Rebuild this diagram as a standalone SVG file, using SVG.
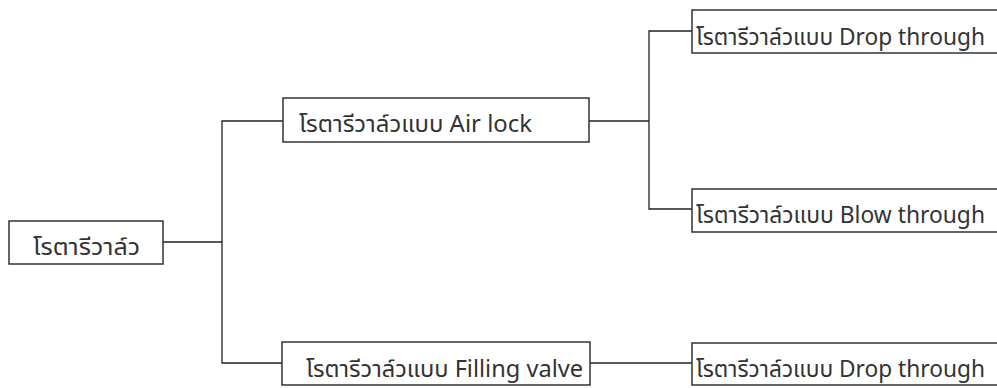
<svg xmlns="http://www.w3.org/2000/svg" width="997" height="388" viewBox="0 0 997 388">
<style>
rect.box{fill:#fff;stroke:#333;stroke-width:1.5}
text{font-family:"Noto Sans Thai","Noto Sans","DejaVu Sans","Liberation Sans",sans-serif;font-size:23px;fill:#333}
.conn line,.conn polyline{stroke:#222;stroke-width:1.3;fill:none}
</style>
<rect width="997" height="388" fill="#fff"/>
<g id="connectors" class="conn">
<line x1="163" y1="242" x2="222" y2="242"/>
<polyline points="283,121 222,121 222,363 282,363"/>
<line x1="589" y1="121" x2="649" y2="121"/>
<polyline points="692,31 649,31 649,209 692,209"/>
<line x1="590" y1="363" x2="692" y2="363"/>
</g>
<g id="root"><rect class="box" x="9" y="221" width="154" height="43"/><text x="33" y="255" textLength="107" lengthAdjust="spacingAndGlyphs">โรตารีวาล์ว</text></g>
<g id="airlock"><rect class="box" x="283" y="98" width="306" height="44"/><text x="299" y="132" textLength="233" lengthAdjust="spacingAndGlyphs">โรตารีวาล์วแบบ Air lock</text></g>
<g id="filling"><rect class="box" x="282" y="342" width="308" height="43"/><text x="306" y="377" textLength="277" lengthAdjust="spacingAndGlyphs">โรตารีวาล์วแบบ Filling valve</text></g>
<g id="drop1"><rect class="box" x="692" y="10" width="320" height="43"/><text x="696" y="45" textLength="289" lengthAdjust="spacingAndGlyphs">โรตารีวาล์วแบบ Drop through</text></g>
<g id="blow"><rect class="box" x="692" y="189" width="320" height="43"/><text x="696" y="223" textLength="289" lengthAdjust="spacingAndGlyphs">โรตารีวาล์วแบบ Blow through</text></g>
<g id="drop2"><rect class="box" x="692" y="343" width="320" height="42"/><text x="696" y="377" textLength="289" lengthAdjust="spacingAndGlyphs">โรตารีวาล์วแบบ Drop through</text></g>
</svg>
